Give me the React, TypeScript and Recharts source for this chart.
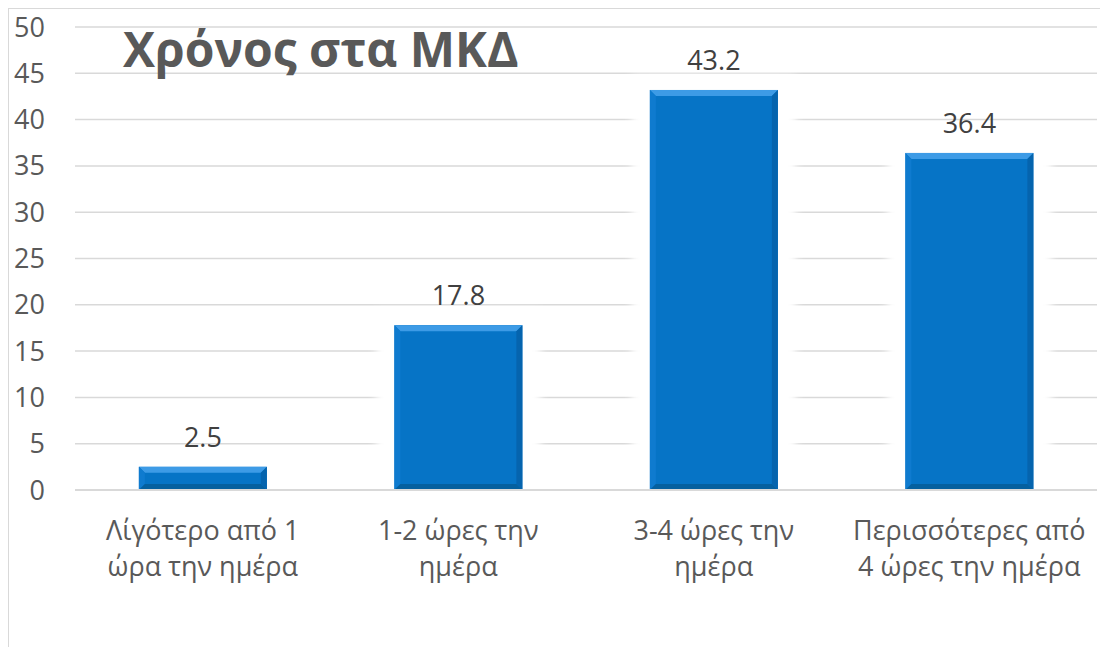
import { BarChart, Bar, XAxis, YAxis, CartesianGrid, LabelList } from 'recharts';

const categories = [
  'Λίγότερο από 1 ώρα την ημέρα',
  '1-2 ώρες την ημέρα',
  '3-4 ώρες την ημέρα',
  'Περισσότερες από 4 ώρες την ημέρα',
];
const tickLines = [
  ['Λίγότερο από 1', 'ώρα την ημέρα'],
  ['1-2 ώρες την', 'ημέρα'],
  ['3-4 ώρες την', 'ημέρα'],
  ['Περισσότερες από', '4 ώρες την ημέρα'],
];
const values = [2.5, 17.8, 43.2, 36.4];
const yTicks = [0, 5, 10, 15, 20, 25, 30, 35, 40, 45, 50];
const title = 'Χρόνος στα ΜΚΔ';

const data = categories.map((name, i) => ({ name, value: values[i] }));

const FONT = '"Open Sans", sans-serif';

function BevelBar(props: any) {
  const { x, y, width, height, index } = props;
  if (!height || height <= 0) return null;
  const b = Math.min(6, height / 2);
  const fid = `glow${index}`;
  const bottom = y + height;
  return (
    <g>
      <defs>
        <filter id={fid} x="-50%" y="-50%" width="200%" height="200%">
          <feGaussianBlur stdDeviation="4" />
        </filter>
      </defs>
      {/* soft white halo that hides the gridlines next to the bar */}
      <rect x={x - 18} y={y - 14} width={width + 36} height={height + 12} fill="#ffffff" filter={`url(#${fid})`} />
      <rect x={x - 10} y={y - 8} width={width + 20} height={height + 6} fill="#ffffff" filter={`url(#${fid})`} />
      <rect x={x} y={y} width={width} height={height} fill="#0674c6" />
      {/* top bevel */}
      <polygon points={`${x},${y} ${x + width},${y} ${x + width - b},${y + b} ${x + b},${y + b}`} fill="#3d9be6" />
      {/* left bevel */}
      <polygon points={`${x},${y} ${x + b},${y + b} ${x + b},${bottom - b} ${x},${bottom}`} fill="#0f7bcf" />
      {/* right bevel */}
      <polygon points={`${x + width},${y} ${x + width - b},${y + b} ${x + width - b},${bottom - b} ${x + width},${bottom}`} fill="#0564ae" />
      {/* bottom bevel */}
      <polygon points={`${x},${bottom} ${x + b},${bottom - b} ${x + width - b},${bottom - b} ${x + width},${bottom}`} fill="#05609f" />
    </g>
  );
}

function ValueLabel(props: any) {
  const { x, y, width, value } = props;
  return (
    <text x={x + width / 2} y={y - 20} textAnchor="middle" fill="#404040" fontSize={27} fontFamily={FONT}>
      {value}
    </text>
  );
}

function CategoryTick(props: any) {
  const { x, y, index } = props;
  const lines = tickLines[index] || [];
  return (
    <text x={x} y={y} textAnchor="middle" fill="#595959" fontSize={27} fontFamily={FONT}>
      {lines.map((line, i) => (
        <tspan key={i} x={x} y={y + 50 + i * 36}>
          {line}
        </tspan>
      ))}
    </text>
  );
}

export default function App() {
  return (
    <div
      style={{
        position: 'relative',
        width: 1100,
        height: 639,
        borderLeft: '1px solid #d9d9d9',
        borderTop: '1px solid #d9d9d9',
        background: '#ffffff',
      }}
    >
      <BarChart
        width={1099}
        height={638}
        data={data}
        margin={{ top: 18, right: 11, left: 0, bottom: 0 }}
        barCategoryGap="25%"
      >
        <CartesianGrid vertical={false} stroke="#d9d9d9" strokeWidth={1.5} />
        <XAxis
          dataKey="name"
          height={157}
          axisLine={{ stroke: '#d9d9d9', strokeWidth: 2 }}
          tickLine={false}
          tickSize={0}
          tickMargin={0}
          interval={0}
          tick={<CategoryTick />}
        />
        <YAxis
          width={66}
          domain={[0, 50]}
          ticks={yTicks}
          axisLine={false}
          tickLine={false}
          tickSize={0}
          tickMargin={30}
          tick={{ fill: '#595959', fontSize: 27, fontFamily: FONT }}
        />
        <Bar dataKey="value" shape={<BevelBar />} isAnimationActive={false}>
          <LabelList dataKey="value" content={<ValueLabel />} />
        </Bar>
      </BarChart>
      <svg width={600} height={90} style={{ position: 'absolute', left: 0, top: 0, pointerEvents: 'none' }}>
        <text x={114} y={58} fill="#595959" fontSize={48} fontWeight="bold" fontFamily={FONT}>
          {title}
        </text>
      </svg>
    </div>
  );
}
